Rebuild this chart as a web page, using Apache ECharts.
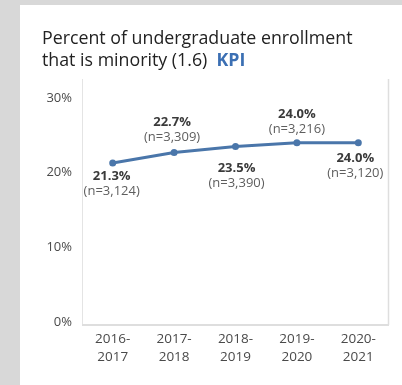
<!DOCTYPE html>
<html>
<head>
<meta charset="utf-8">
<script src="https://cdn.jsdelivr.net/npm/echarts@6/dist/echarts.min.js"></script>
<style>
  html, body { margin: 0; padding: 0; background: #d8d8d8; }
  #card { position: absolute; left: 20px; top: 5px; width: 382px; height: 380px; background: #ffffff; }
  #chart { position: absolute; left: 0; top: 0; width: 402px; height: 385px; }
</style>
</head>
<body>
<div id="card"></div>
<div id="chart"></div>
<script>
// Academic years on the x axis
const years = ['2016-2017', '2017-2018', '2018-2019', '2019-2020', '2020-2021'];
// Share of undergraduate enrollment that is minority (%)
const minorityPct = [21.3, 22.7, 23.5, 24.0, 24.0];
// Headcount behind each percentage
const sampleN = [3124, 3309, 3390, 3216, 3120];
// Value axis ticks
const yMin = 0, yMax = 30, yStep = 10;

// Which side of the line each point's label sits on
const labelSide = ['bottom', 'top', 'bottom', 'top', 'bottom'];
const labelGap = [2, 4, 11, 3, 4];
const labelShift = [[-1, 0], [-2, 0], [1, 0], [0, 0], [-3, 0]];

const FONT = '"Open Sans", "Liberation Sans", sans-serif';
const lineColor = '#4a76aa';

const seriesData = minorityPct.map((v, i) => ({
  value: v,
  label: {
    position: labelSide[i],
    distance: labelGap[i],
    offset: labelShift[i]
  }
}));

const chart = echarts.init(document.getElementById('chart'), null, { renderer: 'canvas' });

chart.setOption({
  animation: false,
  backgroundColor: 'transparent',
  textStyle: { fontFamily: FONT },
  title: {
    left: 37,
    top: 23,
    text: 'Percent of undergraduate enrollment\nthat is minority (1.6)  {kpi|KPI}',
    textStyle: {
      fontFamily: FONT,
      fontSize: 17.8,
      fontWeight: 'normal',
      color: '#222',
      lineHeight: 22,
      rich: {
        kpi: { fontFamily: FONT, fontSize: 17.8, fontWeight: 'bold', color: '#3b6fb3', lineHeight: 22 }
      }
    }
  },
  grid: { left: 82, right: 13, top: 98, bottom: 63, containLabel: false },
  xAxis: {
    type: 'category',
    data: years,
    boundaryGap: true,
    axisLine: { show: false },
    axisTick: { show: false },
    axisLabel: {
      color: '#4a4a4a',
      fontFamily: FONT,
      fontSize: 13.5,
      lineHeight: 18,
      margin: 8,
      formatter: (s) => s.replace('-', '-\n')
    }
  },
  yAxis: {
    type: 'value',
    min: yMin,
    max: yMax,
    interval: yStep,
    axisLine: { show: false },
    axisTick: { show: false },
    splitLine: { show: false },
    axisLabel: {
      color: '#4a4a4a',
      fontFamily: FONT,
      fontSize: 13,
      margin: 10,
      formatter: (v) => v + '%'
    }
  },
  graphic: [
    { type: 'line', shape: { x1: 82.5, y1: 79, x2: 82.5, y2: 325 }, style: { stroke: '#e4e4e4', lineWidth: 1 }, silent: true },
    { type: 'line', shape: { x1: 388.5, y1: 79, x2: 388.5, y2: 325 }, style: { stroke: '#dedede', lineWidth: 1.5 }, silent: true },
    { type: 'line', shape: { x1: 82, y1: 325, x2: 389, y2: 325 }, style: { stroke: '#dedede', lineWidth: 2 }, silent: true }
  ],
  series: [{
    type: 'line',
    data: seriesData,
    symbol: 'circle',
    symbolSize: 7,
    lineStyle: { color: lineColor, width: 3 },
    itemStyle: { color: lineColor },
    label: {
      show: true,
      fontFamily: FONT,
      formatter: (p) => '{v|' + p.value.toFixed(1) + '%}\n{n|(n=' + sampleN[p.dataIndex].toLocaleString('en-US') + ')}',
      rich: {
        v: { fontFamily: FONT, fontSize: 13, fontWeight: 'bold', color: '#3a3a3a', lineHeight: 15, align: 'center' },
        n: { fontFamily: FONT, fontSize: 13, color: '#5e5e5e', lineHeight: 15, align: 'center' }
      }
    }
  }]
});
</script>
</body>
</html>
